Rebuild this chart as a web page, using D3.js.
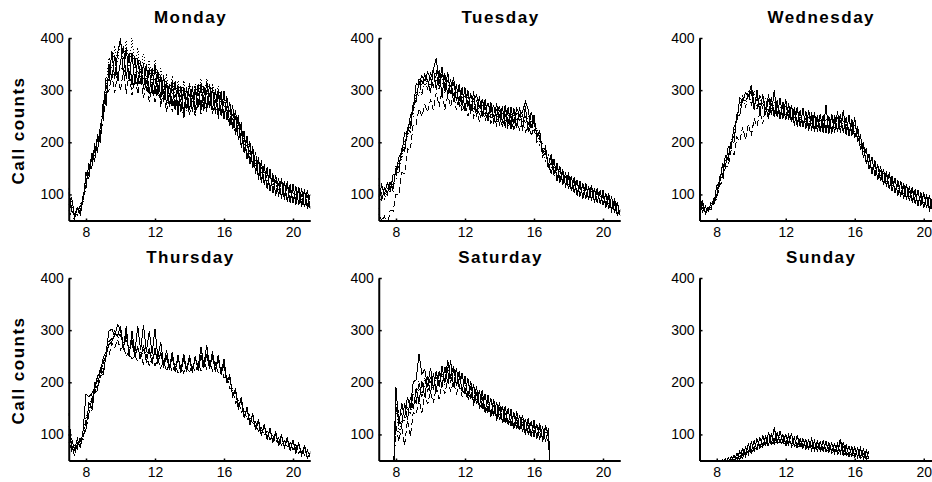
<!DOCTYPE html>
<html>
<head>
<meta charset="utf-8">
<script src="https://cdn.jsdelivr.net/npm/d3@7"></script>
<style>
body { margin: 0; background: #fff; }
text { font-family: 'Liberation Sans', Arial, sans-serif; }
</style>
</head>
<body>
<script>
// panels, in drawing order
var days = ['Monday', 'Tuesday', 'Wednesday', 'Thursday', 'Saturday', 'Sunday'];
var xTicks = [8, 12, 16, 20];
var yTicks = [100, 200, 300, 400];
// hour of the first sample of each day, samples every 10 minutes
var dayStart = [7, 7, 7, 7, 7 + 50 / 60, 8];

// call counts, one array per week (10 min samples)
var mon1 = [112,70,60,75,66,98, 118,158,150,195,182,232, 255,325,318,375,322,372, 398,330,382,318,372,310, 362,312,352,298,342,292, 348,298,328,280,318,268, 318,262,308,258,305,265,
	312,258,305,270,312,262, 318,268,305,258,302,250, 298,242,278,228,262,205, 238,180,212,158,192,140, 172,122,158,110,148,102, 138,96,132,90,125,84, 120,82,115,78,110,74, 100];
var mon2 = [80,95,58,72,62,90, 140,130,180,162,215,198, 280,272,350,320,368,318, 355,385,322,372,310,365, 308,356,302,350,292,342, 292,338,282,328,272,312, 270,318,262,308,255,305,
	262,308,258,312,266,308, 265,312,262,302,255,298, 245,288,232,272,218,252, 190,222,168,202,150,182, 128,165,118,152,106,140, 98,132,92,126,86,120, 84,116,80,112,76,108, 72];
var mon3 = [70,58,52,78,60,92, 112,148,160,185,184,215, 242,292,300,330,295,335, 298,340,292,335,290,330, 292,325,285,320,278,310, 278,310,268,300,258,295, 258,292,250,290,245,285,
	252,290,250,295,255,290, 258,295,255,285,245,280, 245,268,230,255,215,240, 195,205,172,185,155,168, 135,150,120,138,108,130, 102,120,96,112,88,108, 85,104,80,100,76,98, 76];
var mon4 = [98,84,62,58,84,88, 132,142,178,180,206,216, 275,308,362,342,385,352, 400,358,395,342,400,338, 382,332,372,322,358,312, 358,312,342,298,332,288, 328,288,318,282,318,282,
	318,278,312,288,322,282, 322,288,312,278,308,272, 292,262,272,245,258,225, 232,195,208,175,185,155, 168,140,152,124,140,112, 132,108,126,100,118,94, 114,90,108,86,104,82, 98];
var mon5 = [104,66,64,60,78,86, 142,136,170,176,205,210, 270,298,335,332,330,338, 342,340,332,336,326,332, 336,326,322,316,312,308, 324,288,322,278,312,272, 302,270,304,258,300,260,
	292,258,300,265,304,260, 300,265,302,255,294,250, 280,245,262,225,250,205, 222,180,200,158,184,140, 164,128,150,112,142,105, 128,96,126,90,120,86, 112,80,110,76,106,74, 86];

var tue1 = [95,118,100,122,108,138, 138,172,178,218,215,252, 262,312,310,328,318,335, 322,340,362,312,345,300, 335,292,325,280,312,270, 305,272,292,282,290,268, 282,262,275,258,270,250,
	270,238,272,235,268,235, 265,252,258,278,262,228, 252,212,222,178,192,155, 178,140,160,126,148,114, 142,108,134,100,126,94, 122,90,118,86,112,82, 108,78,102,68,92,60, 70];
var tue2 = [132,88,112,102,120,112, 150,152,188,185,228,228, 275,280,318,310,330,318, 295,342,300,338,290,332, 290,322,278,312,268,305, 260,300,255,298,248,288, 248,282,240,278,236,275,
	232,270,228,268,226,265, 228,268,222,270,220,258, 238,215,212,182,182,158, 140,168,126,155,118,142, 110,136,102,128,96,122, 92,116,88,112,84,108, 80,102,72,96,64,86, 58];
var tue3 = [62,50,58,40,70,68, 100,98,142,140,188,185, 235,235,265,250,272,258, 282,262,295,268,298,262, 290,268,295,262,288,258, 275,250,275,248,262,240, 262,242,258,236,252,232,
	250,228,258,225,250,222, 245,222,242,218,238,212, 228,200,208,172,182,148, 165,136,150,124,140,116, 132,106,124,98,118,92, 112,90,108,86,104,82, 100,76,92,68,82,60, 68];
var tue4 = [72,102,92,112,104,128, 128,162,168,202,210,240, 248,298,290,318,310,318, 308,325,318,320,312,315, 298,308,288,298,278,292, 272,288,268,278,260,272, 258,270,252,265,248,262,
	242,258,240,255,238,252, 238,252,232,248,230,242, 220,228,195,198,165,175, 150,158,135,145,124,134, 118,130,108,120,102,114, 98,110,94,106,90,100, 86,98,80,90,70,80, 58];
var tue5 = [118,92,104,98,126,104, 155,140,180,182,225,220, 272,278,322,290,330,300, 335,305,338,300,330,295, 320,288,315,278,305,272, 295,268,290,258,282,252, 278,250,275,245,270,240,
	262,240,260,238,258,236, 258,240,252,236,250,225, 240,210,218,180,188,155, 170,140,156,128,144,118, 136,110,128,102,120,96, 116,92,112,88,108,84, 104,80,96,72,86,64, 72];

var wed1 = [100,66,76,68,84,80, 118,120,158,152,192,188, 230,240,285,280,295,288, 298,262,300,255,292,252, 292,252,300,248,285,245, 282,242,272,232,268,230, 265,225,262,222,258,220,
	255,218,272,216,255,218, 260,218,262,215,252,212, 248,200,215,170,188,148, 172,135,158,125,148,115, 142,106,132,98,126,92, 120,88,114,82,108,78, 104,74,98,68,94,64, 76];
var wed2 = [80,88,64,76,74,92, 94,132,132,175,166,202, 200,252,252,282,280,288, 310,272,282,272,275,265, 250,285,248,280,245,278, 242,275,240,268,230,262, 230,260,222,258,220,252,
	220,252,218,250,216,252, 220,255,218,248,212,245, 208,232,185,200,158,178, 140,165,128,154,118,144, 110,136,102,128,96,122, 90,116,84,110,78,104, 74,100,68,94,64,88, 64];
var wed3 = [76,74,62,74,70,86, 92,118,124,152,154,185, 175,210,202,230,205,235, 212,245,230,260,235,268, 245,275,248,272,245,268, 245,260,240,254,235,248, 230,248,226,245,225,242,
	222,240,222,240,220,240, 222,240,220,238,216,232, 210,220,188,192,160,170, 142,156,130,146,120,136, 112,128,104,120,98,114, 92,108,86,102,80,98, 76,92,70,88,66,82, 60];
var wed4 = [104,72,78,68,86,84, 116,124,158,156,190,194, 230,245,278,274,290,282, 290,278,288,268,284,265, 280,262,276,258,272,255, 270,252,266,245,258,240, 256,236,250,234,248,230,
	246,228,246,228,244,228, 246,228,244,226,240,222, 234,210,210,180,182,156, 166,142,152,132,142,122, 134,114,126,106,120,100, 114,94,108,88,102,84, 98,80,92,74,88,70, 80];
var wed5 = [88,80,66,76,72,92, 98,134,140,168,172,204, 212,254,262,290,266,298, 270,298,264,290,262,284, 258,286,254,280,252,276, 250,270,244,262,238,258, 236,256,230,254,226,252,
	226,248,224,250,222,248, 226,252,224,244,220,240, 216,224,190,194,164,172, 148,158,134,148,124,138, 116,130,108,122,102,116, 96,110,90,104,84,98, 80,94,74,88,70,82, 76];

var thu1 = [142,72,70,92,74,108, 178,172,178,188,212,218, 248,258,298,302,288,310, 302,262,308,248,298,258, 308,262,310,258,298,255, 302,248,278,232,262,228, 258,222,252,220,255,222,
	252,220,248,228,268,232, 272,228,260,222,252,216, 245,198,215,172,188,150, 172,132,152,120,140,108, 130,98,120,90,112,84, 106,78,100,74,94,70, 90,66,84,60,80,56, 64];
var thu2 = [84,92,70,80,86,100, 110,160,150,198,188,228, 218,252,272,278,292,288, 308,268,292,255,282,248, 268,244,272,238,265,236, 265,236,258,228,252,224, 252,220,250,218,248,220,
	248,218,250,222,252,228, 255,225,252,220,248,215, 235,200,212,172,185,148, 168,132,150,118,138,108, 126,98,118,90,110,84, 102,78,98,74,92,70, 88,64,82,60,76,54, 66];
var thu3 = [78,80,58,84,76,98, 108,140,144,180,184,212, 215,250,252,276,266,282, 262,270,250,258,244,252, 240,252,235,250,232,246, 232,244,228,240,222,236, 220,234,218,232,218,230,
	218,234,220,236,222,240, 225,240,222,236,218,228, 208,212,188,188,160,166, 142,150,128,138,118,124, 106,114,98,106,90,98, 84,94,80,88,74,84, 70,80,64,74,60,70, 56];
var thu4 = [116,72,78,76,94,92, 134,142,174,182,212,212, 242,248,282,280,298,284, 292,274,282,264,274,256, 268,254,264,252,262,246, 258,244,254,238,248,234, 246,232,244,230,242,230,
	242,230,244,232,246,236, 248,236,246,232,240,224, 230,208,208,182,182,158, 164,142,146,128,134,116, 124,106,114,98,106,90, 100,86,96,82,90,76, 86,72,80,66,76,62, 68];
var thu5 = [100,68,76,72,92,88, 130,140,168,180,204,208, 238,252,278,284,288,292, 290,276,280,260,272,256, 264,248,262,248,258,242, 258,242,252,236,246,230, 246,230,242,228,244,226,
	242,228,244,232,246,236, 250,234,246,230,240,222, 230,204,208,178,182,154, 164,136,150,124,136,112, 124,100,116,92,108,86, 102,80,98,76,94,70, 88,66,84,60,80,56, 60];

var sat1 = [0, 190,118,160,132,172,150, 200,205,255,215,225,192, 228,188,222,192,232,198, 242,208,232,195,222,182, 212,172,202,160,192,152, 185,142,175,135,168,128,
	162,122,155,118,148,110, 145,108,138,100,132,96, 128,92,122,88,118,100, 0];
var sat2 = [0, 150,128,118,160,128,172, 148,188,162,202,172,212, 178,218,182,222,190,230, 198,242,192,228,188,218, 178,208,168,196,158,185, 148,178,142,170,136,162,
	128,155,122,150,116,142, 110,138,104,130,100,125, 96,120,90,115,86,112, 0];
var sat3 = [0, 118,86,118,78,128,96, 142,138,168,142,178,158, 182,160,192,168,198,178, 206,182,202,178,195,172, 188,165,180,158,170,150, 162,142,155,135,148,128,
	140,122,135,118,130,110, 124,106,118,100,114,96, 108,92,104,88,100,84, 0];
var sat4 = [0, 160,102,128,124,148,140, 168,162,188,178,196,184, 200,188,208,196,214,202, 220,206,218,198,208,188, 198,178,188,168,178,158, 170,150,162,142,154,134,
	148,128,142,124,136,118, 130,112,124,108,120,102, 114,98,110,94,106,92, 0];
var sat5 = [0, 182,132,140,148,152,142, 180,158,202,172,208,182, 212,185,218,190,222,195, 230,198,225,192,215,185, 202,175,192,165,182,155, 175,145,165,138,160,130,
	152,125,148,120,142,112, 135,110,130,102,125,98, 120,94,115,90,112,96, 0];

var sun1 = [42,34,50,40,56,44, 60,48,68,54,76,62, 86,68,92,72,98,78, 104,80,114,82,106,84, 100,80,102,76,98,76, 92,72,90,70,88,68, 86,68,88,66,84,64, 82,64,86,60,78,58, 76,56,74,54,70,52];
var sun2 = [36,48,38,54,42,58, 46,64,52,72,58,82, 66,88,70,94,76,96, 80,100,82,104,84,100, 80,96,78,94,76,92, 74,90,72,92,70,86, 68,88,66,84,66,82, 64,92,62,80,60,76, 58,74,56,72,54,68];
var sun3 = [34,40,36,44,40,48, 46,56,50,62,58,70, 64,76,70,80,74,84, 78,86,80,88,80,86, 78,86,76,84,74,82, 72,80,72,78,70,76, 68,76,66,72,64,70, 62,70,60,66,58,64, 56,62,54,60,52,58];
var sun4 = [46,42,50,46,54,50, 58,56,66,62,74,70, 82,76,88,80,92,86, 96,88,98,90,96,88, 96,86,94,84,92,82, 90,80,88,78,86,76, 84,74,82,72,80,70, 78,70,76,68,74,66, 72,64,70,62,68,60];
var sun5 = [40,50,40,54,44,58, 50,64,56,74,62,80, 72,88,76,92,80,96, 84,100,88,104,86,98, 84,100,82,94,80,92, 78,90,76,92,74,86, 72,88,70,84,68,82, 68,84,66,78,62,76, 60,74,58,70,56,68];

var weeks = [
	[mon1, mon2, mon3, mon4, mon5],
	[tue1, tue2, tue3, tue4, tue5],
	[wed1, wed2, wed3, wed4, wed5],
	[thu1, thu2, thu3, thu4, thu5],
	[sat1, sat2, sat3, sat4, sat5],
	[sun1, sun2, sun3, sun4, sun5]
];

// layout
var panelLeft = [68.75, 378.75, 699.5];
var panelBottom = [220.5, 460.5];
var panelW = 241.5, panelH = 182.5;
var lineDash = [null, null, '6,3', '1,2', '6,2,1,2'];

var svg = d3.select('body').append('svg')
	.attr('width', 932)
	.attr('height', 482);

days.forEach(function(day, p) {
	var left = panelLeft[p % 3];
	var bottom = panelBottom[Math.floor(p / 3)];

	var x = d3.scaleLinear().domain([7, 21]).range([left, left + panelW]);
	var y = d3.scaleLinear().domain([50, 400]).range([bottom, bottom - panelH]);

	var g = svg.append('g');

	svg.append('clipPath').attr('id', 'clip' + p)
		.append('rect')
		.attr('x', x(7)).attr('y', y(400) - 2)
		.attr('width', panelW).attr('height', panelH + 2);

	var line = d3.line()
		.x(function(d, i) { return x(dayStart[p] + i / 6); })
		.y(function(d) { return y(d); });

	g.append('g').attr('clip-path', 'url(#clip' + p + ')')
		.selectAll('path')
		.data(weeks[p])
		.enter()
		.append('path')
		.attr('d', line)
		.attr('fill', 'none')
		.attr('stroke', '#000')
		.attr('stroke-width', 1)
		.attr('stroke-dasharray', function(d, i) { return lineDash[i]; })
		.attr('shape-rendering', 'crispEdges');

	var xAxis = g.append('g')
		.attr('transform', 'translate(0,' + bottom + ')')
		.call(d3.axisBottom(x).tickValues(xTicks).tickSizeInner(-2).tickSizeOuter(0).tickPadding(7));
	var yAxis = g.append('g')
		.attr('transform', 'translate(' + left + ',0)')
		.call(d3.axisLeft(y).tickValues(yTicks).tickSizeInner(-3).tickSizeOuter(0).tickPadding(5));

	[xAxis, yAxis].forEach(function(a) {
		a.select('.domain').attr('stroke', '#000').attr('stroke-width', 2);
		a.selectAll('line').attr('stroke', '#000').attr('stroke-width', 1.5);
		a.selectAll('text')
			.attr('fill', '#000')
			.style('font-size', '14px');
	});

	g.append('text')
		.attr('x', left + panelW / 2 + 1)
		.attr('y', bottom - 197.5)
		.attr('text-anchor', 'middle')
		.style('font-size', '17px')
		.style('font-weight', 'bold')
		.style('letter-spacing', '1.5px')
		.text(day);

	if (p % 3 == 0) {
		g.append('text')
			.attr('transform', 'translate(24,' + (bottom - 90) + ') rotate(-90)')
			.attr('text-anchor', 'middle')
			.style('font-size', '17px')
			.style('font-weight', 'bold')
			.style('letter-spacing', '1.5px')
			.text('Call counts');
	}
});
</script>
</body>
</html>
